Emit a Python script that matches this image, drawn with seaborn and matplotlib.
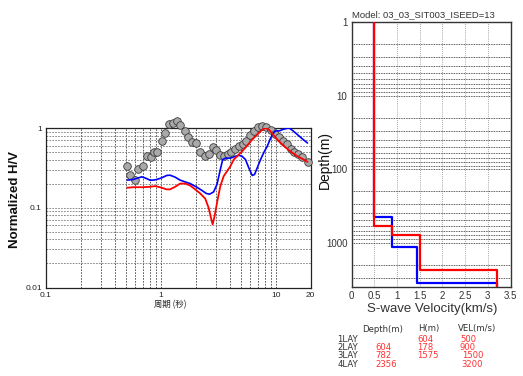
import numpy as np
import pandas as pd
import matplotlib
matplotlib.use("Agg")
import matplotlib.pyplot as plt
import seaborn as sns
from matplotlib.ticker import LogLocator, FixedLocator, FixedFormatter, NullFormatter

# ---------------- data ----------------
obs_period = [0.504, 0.543, 0.592, 0.633, 0.691, 0.749, 0.812, 0.869, 0.929, 1.013,
              1.084, 1.183, 1.274, 1.371, 1.466, 1.61, 1.734, 1.879, 2.023, 2.193,
              2.393, 2.594, 2.812, 3.027, 3.238, 3.532, 3.828, 4.095, 4.436, 4.747,
              5.143, 5.50, 5.995, 6.50, 6.96, 7.59, 8.23, 8.97, 9.72, 10.6,
              11.5, 12.4, 13.4, 14.4, 15.6, 17.0, 18.8]
obs_hv = [0.338, 0.254, 0.220, 0.307, 0.332, 0.442, 0.430, 0.496, 0.506, 0.695,
          0.866, 1.12, 1.166, 1.235, 1.10, 0.926, 0.764, 0.662, 0.643, 0.496,
          0.442, 0.473, 0.573, 0.536, 0.460, 0.442, 0.473, 0.506, 0.546, 0.590,
          0.631, 0.695, 0.818, 0.926, 1.02, 1.05, 1.02, 0.953, 0.841, 0.764,
          0.681, 0.631, 0.546, 0.496, 0.473, 0.430, 0.376]

blue_period = [0.508, 0.573, 0.634, 0.678, 0.725, 0.801, 0.857, 0.917, 1.013, 1.121,
               1.199, 1.326, 1.466, 1.622, 1.793, 2.051, 2.269, 2.475, 2.647, 2.869,
               3.068, 3.281, 3.439, 3.629, 4.013, 4.438, 4.748, 5.077, 5.429, 5.805,
               6.209, 6.507, 6.866, 7.342, 7.853, 8.400, 8.863, 9.288, 9.93, 10.62,
               11.36, 12.15, 12.99, 13.90, 15.37, 16.99, 18.79]
blue_hv = [0.222, 0.226, 0.237, 0.244, 0.237, 0.222, 0.222, 0.226, 0.237, 0.254,
           0.256, 0.242, 0.222, 0.211, 0.201, 0.181, 0.165, 0.151, 0.148, 0.158,
           0.196, 0.301, 0.402, 0.418, 0.418, 0.442, 0.455, 0.442, 0.402, 0.316,
           0.254, 0.261, 0.316, 0.402, 0.496, 0.590, 0.715, 0.826, 0.926, 0.917,
           0.953, 0.981, 1.0, 0.935, 0.826, 0.729, 0.649]

red_period = [0.508, 0.573, 0.700, 0.801, 0.886, 0.980, 1.121, 1.199, 1.326, 1.466,
              1.622, 1.793, 1.984, 2.193, 2.426, 2.594, 2.719, 2.812, 2.928, 3.068,
              3.281, 3.509, 3.753, 4.013, 4.293, 4.590, 5.077, 5.614, 6.209, 6.866,
              7.595, 8.121, 8.685, 9.288, 10.27, 11.36, 12.56, 13.90, 15.37, 16.99, 18.79]
red_hv = [0.178, 0.181, 0.181, 0.183, 0.187, 0.181, 0.170, 0.170, 0.183, 0.201,
          0.201, 0.190, 0.170, 0.151, 0.130, 0.100, 0.075, 0.062, 0.079, 0.115,
          0.187, 0.249, 0.287, 0.332, 0.402, 0.442, 0.511, 0.601, 0.715, 0.826,
          0.953, 1.0, 0.953, 0.850, 0.715, 0.619, 0.546, 0.487, 0.442, 0.410, 0.376]

layer_names = ["1LAY", "2LAY", "3LAY", "4LAY"]
red_bounds = [604, 782, 2356]        # layer top depth (m) of layers 2-4
red_thick = [604, 178, 1575]         # thickness (m) of layers 1-3
red_vel = [500, 900, 1500, 3200]     # m/s
blue_bounds = [450, 1140, 3590]
blue_vel = [500, 900, 1450, 3200]

x_ticks_hv = [0.1, 1, 10, 20]
y_ticks_hv = [0.01, 0.1, 1]
x_ticks_vs = [0, 0.5, 1, 1.5, 2, 2.5, 3, 3.5]
y_ticks_vs = [1, 10, 100, 1000]

# ---------------- style ----------------
sns.set_theme(style="white")
plt.rcParams["font.family"] = ["Liberation Sans", "DejaVu Sans"]

W, H = 523, 376
fig = plt.figure(figsize=(W / 100, H / 100), dpi=100)


def rect(l, t, r, b):
    return [l / W, 1 - b / H, (r - l) / W, (b - t) / H]


def ftext(x, y, s, **kw):
    return fig.text(x / W, 1 - y / H, s, **kw)


# ---------------- left: H/V ----------------
ax1 = fig.add_axes(rect(46, 128, 310.6, 287.5))
ax1.set_xscale("log")
ax1.set_yscale("log")
ax1.set_xlim(0.1, 20)
ax1.set_ylim(0.01, 1)

sns.scatterplot(x=obs_period, y=obs_hv, ax=ax1, s=30, color="#a9a9a9",
                edgecolor="#3a3a3a", linewidth=0.6, clip_on=False, zorder=3)
sns.lineplot(x=blue_period, y=blue_hv, ax=ax1, color="#0000ff", lw=1.2,
             sort=False, estimator=None, zorder=4)
sns.lineplot(x=red_period, y=red_hv, ax=ax1, color="#ff0000", lw=1.3,
             sort=False, estimator=None, zorder=5)

ax1.xaxis.set_major_locator(FixedLocator(x_ticks_hv))
ax1.xaxis.set_major_formatter(FixedFormatter([f"{v:g}" for v in x_ticks_hv]))
ax1.xaxis.set_minor_locator(LogLocator(base=10, subs=range(2, 10)))
ax1.xaxis.set_minor_formatter(NullFormatter())
ax1.yaxis.set_major_locator(FixedLocator(y_ticks_hv))
ax1.yaxis.set_major_formatter(FixedFormatter([f"{v:g}" for v in y_ticks_hv]))
ax1.yaxis.set_minor_locator(LogLocator(base=10, subs=range(2, 10)))
ax1.yaxis.set_minor_formatter(NullFormatter())
ax1.tick_params(which="both", length=0, labelsize=6, colors="#222222", pad=3)
ax1.grid(True, which="both", axis="x", color="#444444", lw=0.6,
         linestyle=(0, (2, 1.5)))
ax1.grid(True, which="both", axis="y", color="#777777", lw=0.6,
         linestyle=(0, (2, 1.5)))
for sp in ax1.spines.values():
    sp.set_color("#222222")
    sp.set_linewidth(0.9)
ax1.set_xlabel("")
ax1.set_ylabel("")

# ---------------- right: Vs profile ----------------
ax2 = fig.add_axes(rect(351.6, 22, 510.5, 287))
ax2.set_yscale("log")
ax2.set_xlim(0, 3.5)
ax2.set_ylim(4030, 1)


def profile(bounds, vel, top=1, bottom=4030):
    edges = [top] + list(bounds) + [bottom]
    xs, ys = [], []
    for i, v in enumerate(vel):
        xs += [v / 1000, v / 1000]
        ys += [edges[i], edges[i + 1]]
    return pd.DataFrame({"vel": xs, "depth": ys})


sns.lineplot(data=profile(blue_bounds, blue_vel), x="vel", y="depth", ax=ax2,
             color="#0000ff", lw=1.6, sort=False, estimator=None, zorder=4)
sns.lineplot(data=profile(red_bounds, red_vel), x="vel", y="depth", ax=ax2,
             color="#ff0000", lw=1.6, sort=False, estimator=None, zorder=5)

ax2.xaxis.set_major_locator(FixedLocator(x_ticks_vs))
ax2.xaxis.set_major_formatter(FixedFormatter([f"{v:g}" for v in x_ticks_vs]))
ax2.yaxis.set_major_locator(FixedLocator(y_ticks_vs))
ax2.yaxis.set_major_formatter(FixedFormatter([f"{v:g}" for v in y_ticks_vs]))
ax2.yaxis.set_minor_locator(LogLocator(base=10, subs=range(2, 10)))
ax2.yaxis.set_minor_formatter(NullFormatter())
ax2.tick_params(which="both", length=0, labelsize=7, colors="#333333", pad=3)
ax2.grid(True, which="both", axis="y", color="#222222", lw=0.6,
         linestyle=(0, (1, 1)))
ax2.grid(True, which="major", axis="x", color="#888888", lw=0.6,
         linestyle=(0, (1, 1.5)))
for sp in ax2.spines.values():
    sp.set_color("#333333")
    sp.set_linewidth(1.0)
ax2.set_xlabel("")
ax2.set_ylabel("")

# ---------------- texts ----------------
ftext(15.5, 200, "Normalized H/V", rotation=90, ha="center", va="center",
      fontsize=9.5, fontweight="bold", color="#111111")
ftext(170, 305, "周期 (秒)", ha="center", va="center", fontsize=6,
      family=["Noto Sans CJK JP", "DejaVu Sans"], color="#222222")
ftext(325, 160, "Depth(m)", rotation=90, ha="center", va="center",
      fontsize=10, color="#111111")
ftext(432.5, 309, "S-wave Velocity(km/s)", ha="center", va="center",
      fontsize=9.5, color="#333333")
ftext(352, 15, "Model: 03_03_SIT003_ISEED=13", ha="left", va="center",
      fontsize=6.8, color="#333333")

# table
tfont = dict(ha="left", va="center", fontsize=6.1, family=["DejaVu Sans"])
hdr_y = 329
row_y = [339, 347.4, 355.8, 364.2]
ftext(361.7, hdr_y, "Depth(m)", color="#333333", **tfont)
ftext(417.7, hdr_y, "H(m)", color="#333333", **tfont)
ftext(457.7, hdr_y, "VEL(m/s)", color="#333333", **tfont)
for i, name in enumerate(layer_names):
    ftext(337.3, row_y[i], name, color="#333333", **tfont)
    if i > 0:
        ftext(375, row_y[i], f"{red_bounds[i - 1]}", color="#ff3030", **tfont)
    if i < len(red_thick):
        ftext(417.3, row_y[i], f"{red_thick[i]}", color="#ff3030", **tfont)
    ftext(460 if red_vel[i] < 1000 else 461.7, row_y[i], f"{red_vel[i]}",
          color="#ff3030", **tfont)

fig.savefig("out.png", dpi=100)
